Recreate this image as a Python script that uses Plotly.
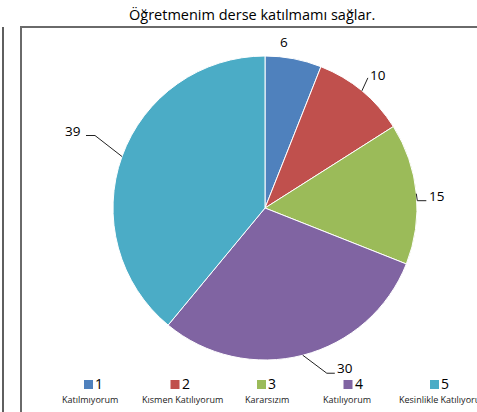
import math
import plotly.graph_objects as go

W, H = 477, 412

TITLE = "Öğretmenim derse katılmamı sağlar."
CODES = ["1", "2", "3", "4", "5"]
NAMES = ["Katılmıyorum", "Kısmen Katılıyorum", "Kararsızım", "Katılıyorum", "Kesinlikle Katılıyorum"]
VALUES = [6, 10, 15, 30, 39]
COLORS = ["#4F81BD", "#C0504D", "#9BBB59", "#8064A2", "#4BACC6"]

# label placement (pixel offsets from the slice edge): elbow, line end, text
LEADERS = [
    (None, None, (-9, -17)),
    (None, (6, -13), (16, -16)),
    ((1, 7), (10, 7), (20, 2)),
    ((24, 18), (32, 18), (42, 13)),
    ((-27, -21), (-36, -21), (-49, -26)),
]
# horizontal shift of each legend caption relative to its swatch
CAPTION_SHIFT = [6, 12, 10, 3, 14]

CX, CY, R = 265, 208, 152


def px(x):
    return x / W


def py(y):
    return 1 - y / H


def text(t, x, y, size, xanchor="center", color="#000000"):
    return dict(text=t, x=px(x), y=py(y), xref="paper", yref="paper", showarrow=False,
                xanchor=xanchor, yanchor="middle", borderpad=0,
                font=dict(family="Open Sans", size=size, color=color))


fig = go.Figure()
fig.add_trace(go.Pie(
    labels=NAMES, values=VALUES, sort=False, direction="clockwise", rotation=0,
    marker=dict(colors=COLORS, line=dict(color="#ffffff", width=1)),
    textinfo="none", hoverinfo="label+value", showlegend=False,
    domain=dict(x=[px(CX - R), px(CX + R)], y=[py(CY + R), py(CY - R)]),
))

shapes = [
    dict(type="line", xref="paper", yref="paper", x0=px(3), x1=px(3), y0=py(27), y1=0,
         line=dict(color="#5f5f5f", width=2)),
    dict(type="path", xref="paper", yref="paper",
         path=f"M {px(21)},0 L {px(21)},{py(27)} L 1.01,{py(27)}",
         line=dict(color="#6a6a6a", width=2)),
]
annotations = [text(TITLE, 252, 15, 14.5)]

total = sum(VALUES)
cum = 0
for v, (elbow, end, lab) in zip(VALUES, LEADERS):
    mid = (cum + v / 2) / total * 2 * math.pi
    cum += v
    sx = CX + R * math.sin(mid)
    sy = CY - R * math.cos(mid)
    pts = [(sx, sy)]
    if elbow:
        pts.append((sx + elbow[0], sy + elbow[1]))
    if end:
        pts.append((sx + end[0], sy + end[1]))
    if len(pts) > 1:
        path = "M " + " L ".join(f"{px(x)},{py(y)}" for x, y in pts)
        shapes.append(dict(type="path", xref="paper", yref="paper", path=path,
                           line=dict(color="#222222", width=1)))
    annotations.append(text(str(v), sx + lab[0], sy + lab[1], 13.5))

# legend drawn by hand: square + code, name underneath
for i, (code, name, col) in enumerate(zip(CODES, NAMES, COLORS)):
    mx = 84 + i * 86.5
    shapes.append(dict(type="rect", xref="paper", yref="paper", x0=px(mx), x1=px(mx + 9),
                       y0=py(389), y1=py(380), fillcolor=col, line=dict(width=0)))
    annotations.append(text(code, mx + 10, 383.5, 14, xanchor="left"))
    annotations.append(text(name, mx + CAPTION_SHIFT[i], 399, 9, color="#1a1a1a"))

fig.update_layout(
    width=W, height=H, margin=dict(l=0, r=0, t=0, b=0),
    paper_bgcolor="#ffffff", plot_bgcolor="#ffffff",
    shapes=shapes, annotations=annotations, showlegend=False,
)
fig.write_html("out.html", config={"displayModeBar": False},
               post_script="document.body.style.margin='0';")
